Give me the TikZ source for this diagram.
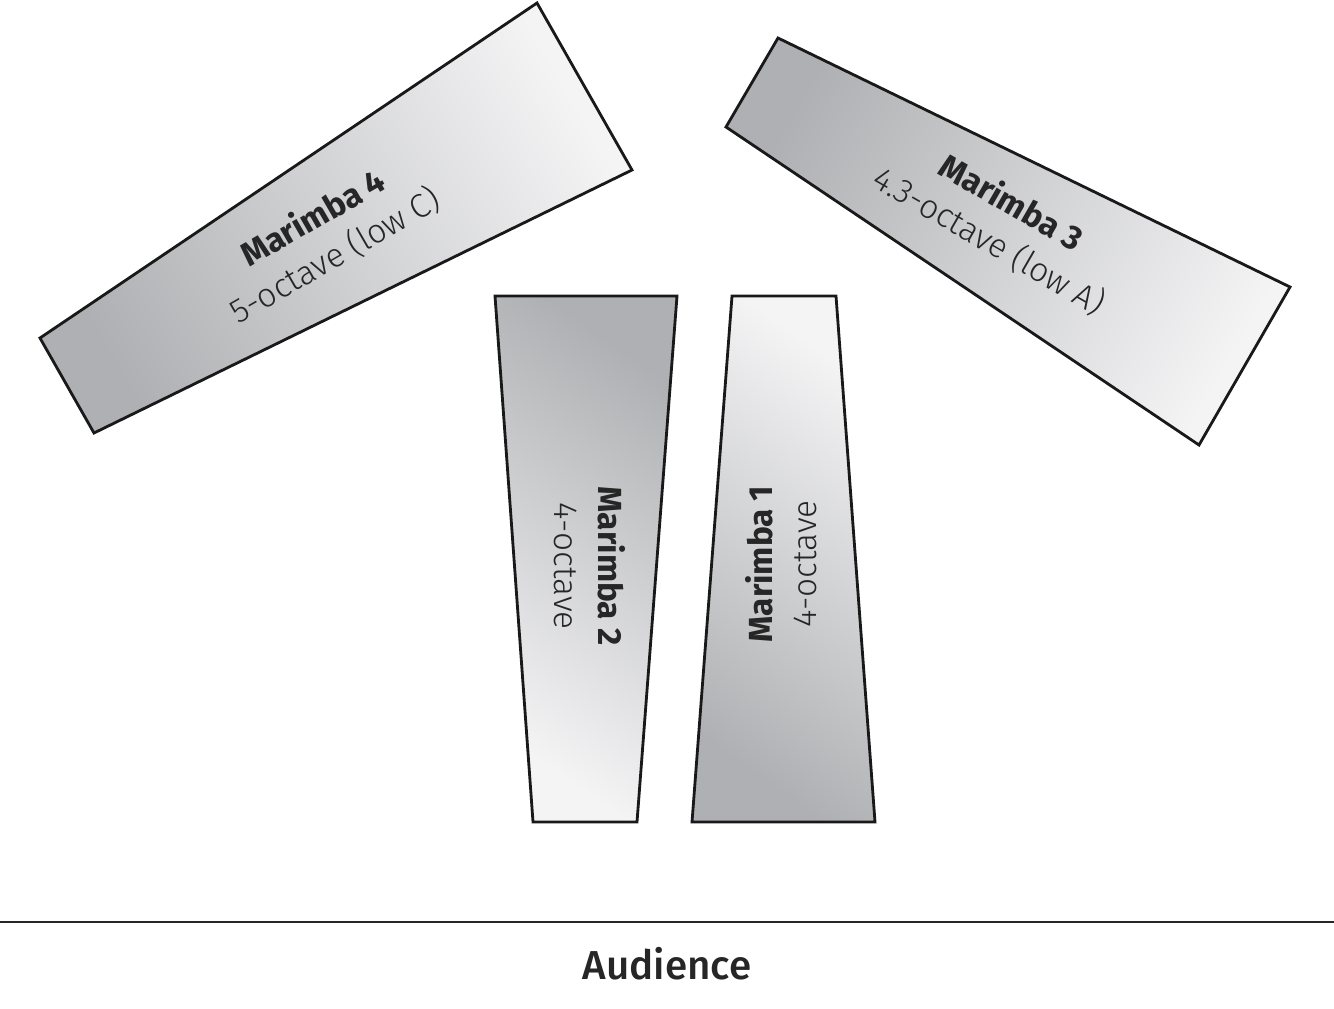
\documentclass[tikz,border=0pt]{standalone}
\usepackage{fontspec}
\setmainfont{Fira Sans}
\newfontfamily\lightfont{Fira Sans Light}
\newfontfamily\mediumfont{Fira Sans Medium}
\begin{document}
\begin{tikzpicture}[x=0.02cm,y=-0.02cm,
  mar/.style={draw=black!90, line width=1.6pt, line join=miter, shading=axis},
  lab/.style={align=center, font=\fontsize{19}{25}\selectfont, text=black!85, inner sep=0pt}
]
\useasboundingbox (0,0) rectangle (1334,1008);
\definecolor{mdark}{HTML}{AFB0B3}
\definecolor{mlight}{HTML}{F4F4F5}
% Marimba 4
\path[mar, top color=mlight, bottom color=mdark, shading angle=-60]
  (40,338) -- (537,3) -- (632,170) -- (94,433) -- cycle;
% Marimba 3
\path[mar, top color=mdark, bottom color=mlight, shading angle=60]
  (778,38) -- (1290,287) -- (1199,445) -- (726,127) -- cycle;
% Marimba 2
\path[mar, top color=mdark, bottom color=mlight, shading angle=-35]
  (495,296) -- (677,296) -- (637,822) -- (533,822) -- cycle;
% Marimba 1
\path[mar, top color=mlight, bottom color=mdark, shading angle=-35]
  (732,296) -- (836,296) -- (875,822) -- (692,822) -- cycle;

\node[lab, rotate=30] (m4) at (324,237) {{\bfseries Marimba 4}\\{\lightfont 5-octave (low C)}};
\node[lab, rotate=-30] (m3) at (1000,222) {{\bfseries Marimba 3}\\{\lightfont 4.3-octave (low A)}};
\node[lab, rotate=-90] (m2) at (590,566) {{\bfseries Marimba 2}\\{\lightfont 4-octave}};
\node[lab, rotate=90] (m1) at (781,564) {{\bfseries Marimba 1}\\{\lightfont 4-octave}};

\coordinate (sl) at (0,922);
\coordinate (sr) at (1334,922);
\draw[line width=1.2pt, black!85] (sl) -- (sr);
\node[font=\fontsize{23}{27}\selectfont\mediumfont, text=black!85, inner sep=0pt] (aud) at (667,964) {Audience};
\end{tikzpicture}
\end{document}
